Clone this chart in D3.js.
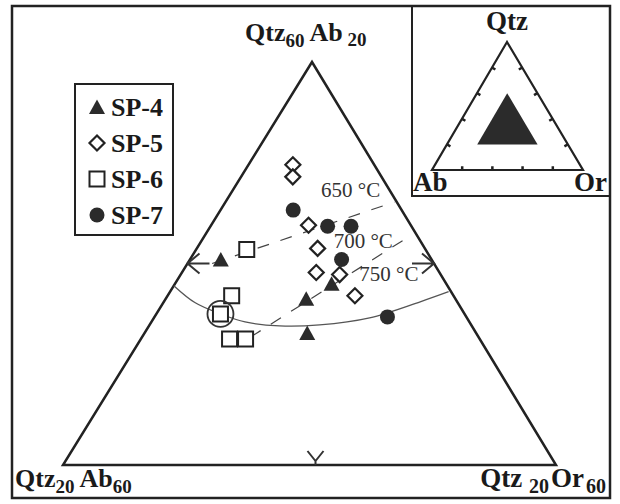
<!DOCTYPE html>
<html lang="en">
<head>
    <meta charset="UTF-8">
    <script src="https://d3js.org/d3.v7.min.js"></script>
    <title>Qtz-Ab-Or ternary</title>
    <style>
        body { margin: 0; background: white; }
        text { font-family: "Liberation Serif", "Times New Roman", serif; fill: #1a1a1a; }
        .bold { font-weight: bold; }
    </style>
</head>
<body>
<div id="chart"></div>
<script>
    // compositions, as [Qtz, Ab, Or] (wt %)
    var sp4 = [[40.4, 37.1, 22.5], [36.5, 32.1, 31.4], [38.0, 29.3, 32.7], [33.1, 33.7, 33.2]];
    var sp5 = [[49.8, 26.6, 23.6], [48.6, 27.2, 24.2], [43.8, 28.3, 27.9], [41.5, 28.7, 29.8],
               [39.1, 30.0, 30.9], [38.9, 28.2, 32.9], [36.8, 28.0, 35.2]];
    var sp6 = [[41.4, 34.5, 24.1], [36.8, 38.0, 25.2], [35.0, 39.8, 25.2], [32.5, 40.3, 27.2], [32.5, 39.0, 28.5]];
    var sp7 = [[45.3, 28.8, 25.9], [43.7, 26.8, 29.5], [43.7, 24.9, 31.4], [40.4, 27.3, 32.3], [34.7, 26.4, 38.9]];
    // minimum composition circled
    var minPoint = [35.0, 39.8, 25.2];
    // cotectic curve
    var cotectic = [[37.8, 42.2, 20.0], [36.1, 41.3, 22.6], [35.0, 39.8, 25.2], [34.2, 38.2, 27.6],
                    [33.8, 35.6, 30.6], [33.9, 32.3, 33.8], [34.6, 27.9, 37.5], [36.2, 23.0, 40.8], [37.2, 20.2, 42.6]];
    // isotherms (dashed)
    var iso650 = [[40.0, 38.0, 22.0], [46.1, 20.2, 33.7]];
    var iso700 = [[32.7, 38.5, 28.8], [42.9, 20.3, 36.8]];
    var isoLabels = ["650 °C", "700 °C", "750 °C"];
    var isoLabelPos = [[46.6, 25.9, 27.5], [41.5, 27.4, 31.1], [38.3, 26.9, 34.8]];
    var seriesNames = ["SP-4", "SP-5", "SP-6", "SP-7"];
    // corners of the main plot and of the small index triangle
    var mainCorners = [[60, 20, 20], [20, 60, 20], [20, 20, 60]];
    var insetTicks = [20, 40, 60, 80];

    var W = 620, H = 504;
    var svg = d3.select("#chart").append("svg")
        .attr("width", W)
        .attr("height", H);

    // main triangle: Qtz 20..60 along the vertical, Or 20..60 along the base
    var apex = [312, 62], bl = [63, 465], br = [556, 465];
    var yScale = d3.scaleLinear().domain([20, 60]).range([bl[1], apex[1]]);
    var xOr = d3.scaleLinear().domain([20, 60]).range([0, br[0] - bl[0]]);
    var xQtz = d3.scaleLinear().domain([20, 60]).range([0, apex[0] - bl[0]]);
    function px(d) { return bl[0] + xOr(d[2]) + xQtz(d[0]); }
    function py(d) { return yScale(d[0]); }

    // inset triangle, full 0..100 range
    var iApex = [507, 42], iBl = [432, 170], iBr = [583, 170];
    var iy = d3.scaleLinear().domain([0, 100]).range([iBl[1], iApex[1]]);
    var ixOr = d3.scaleLinear().domain([0, 100]).range([0, iBr[0] - iBl[0]]);
    var ixQtz = d3.scaleLinear().domain([0, 100]).range([0, iApex[0] - iBl[0]]);
    function ipx(d) { return iBl[0] + ixOr(d[2]) + ixQtz(d[0]); }
    function ipy(d) { return iy(d[0]); }

    // outer frame and inset box
    svg.append("rect").attr("x", 12).attr("y", 6).attr("width", 598).attr("height", 492)
        .attr("fill", "none").attr("stroke", "#222").attr("stroke-width", 2.5);
    svg.append("path").attr("d", "M412,6 V196 H610")
        .attr("fill", "none").attr("stroke", "#222").attr("stroke-width", 2);

    var line = d3.line().x(px).y(py);

    // main triangle
    svg.append("path").attr("d", line(mainCorners) + "Z")
        .attr("fill", "none").attr("stroke", "#222").attr("stroke-width", 2.5)
        .attr("stroke-linejoin", "miter");

    // edge arrows at mid points
    var arrows = svg.append("g").attr("stroke", "#333").attr("stroke-width", 2).attr("fill", "none");
    var mL = [px([40, 40, 20]), py([40, 40, 20])];
    var mR = [px([40, 20, 40]), py([40, 20, 40])];
    var mB = [px([20, 40, 40]) + 6, py([20, 40, 40])];
    arrows.append("path").attr("d", "M" + (mL[0] + 12) + "," + (mL[1] - 10) + " L" + mL[0] + "," + mL[1] +
        " L" + (mL[0] + 12) + "," + (mL[1] + 10) + " M" + mL[0] + "," + mL[1] + " H" + (mL[0] + 22));
    arrows.append("path").attr("d", "M" + (mR[0] - 12) + "," + (mR[1] - 10) + " L" + mR[0] + "," + mR[1] +
        " L" + (mR[0] - 12) + "," + (mR[1] + 10) + " M" + mR[0] + "," + mR[1] + " H" + (mR[0] - 22));
    arrows.append("path").attr("d", "M" + (mB[0] - 8) + "," + (mB[1] - 14) + " L" + mB[0] + "," + (mB[1] - 4) +
        " L" + (mB[0] + 8) + "," + (mB[1] - 14) + " M" + mB[0] + "," + (mB[1] - 4) + " V" + mB[1]);

    // cotectic and isotherms
    svg.append("path").attr("d", d3.line().x(px).y(py).curve(d3.curveCatmullRom)(cotectic))
        .attr("fill", "none").attr("stroke", "#555").attr("stroke-width", 1.3);
    [iso650, iso700].forEach(function(iso) {
        svg.append("path").attr("d", line(iso))
            .attr("fill", "none").attr("stroke", "#444").attr("stroke-width", 1.2)
            .attr("stroke-dasharray", "12,12");
    });
    svg.selectAll(".iso").data(isoLabels).enter().append("text")
        .attr("class", "iso")
        .attr("x", function(d, i) { return px(isoLabelPos[i]); })
        .attr("y", function(d, i) { return py(isoLabelPos[i]); })
        .attr("font-size", 21)
        .style("fill", "#333")
        .text(function(d) { return d; });

    // markers
    var shapes = {
        tri: "M0,-7.5 L8,7 L-8,7 Z",
        dia: "M0,-7.5 L7.5,0 L0,7.5 L-7.5,0 Z",
        sq: "M-7.5,-7.5 H7.5 V7.5 H-7.5 Z"
    };
    function drawTri(g, data) {
        g.selectAll(null).data(data).enter().append("path")
            .attr("transform", function(d) { return "translate(" + px(d) + "," + py(d) + ")"; })
            .attr("d", shapes.tri).attr("fill", "#2b2b2b");
    }
    function drawDia(g, data) {
        g.selectAll(null).data(data).enter().append("path")
            .attr("transform", function(d) { return "translate(" + px(d) + "," + py(d) + ")"; })
            .attr("d", shapes.dia).attr("fill", "white").attr("stroke", "#222").attr("stroke-width", 2.2);
    }
    function drawSq(g, data) {
        g.selectAll(null).data(data).enter().append("path")
            .attr("transform", function(d) { return "translate(" + px(d) + "," + py(d) + ")"; })
            .attr("d", shapes.sq).attr("fill", "white").attr("stroke", "#222").attr("stroke-width", 2);
    }
    function drawCir(g, data) {
        g.selectAll(null).data(data).enter().append("circle")
            .attr("cx", px).attr("cy", py).attr("r", 7.5).attr("fill", "#2b2b2b");
    }
    var marks = svg.append("g");
    drawSq(marks, sp6);
    drawDia(marks, sp5);
    drawCir(marks, sp7);
    drawTri(marks, sp4);
    marks.append("circle").attr("cx", px(minPoint)).attr("cy", py(minPoint)).attr("r", 13)
        .attr("fill", "none").attr("stroke", "#333").attr("stroke-width", 1.8);

    // corner labels
    var title = svg.append("text").attr("class", "bold").attr("x", 245).attr("y", 41).attr("font-size", 26);
    title.append("tspan").text("Qtz");
    title.append("tspan").attr("font-size", 19).attr("dy", 6).text("60");
    title.append("tspan").attr("dy", -6).text(" Ab");
    title.append("tspan").attr("font-size", 19).attr("dy", 5).text(" 20");

    var lbl = svg.append("text").attr("class", "bold").attr("x", 15).attr("y", 487).attr("font-size", 26);
    lbl.append("tspan").text("Qtz");
    lbl.append("tspan").attr("font-size", 19).attr("dy", 6).text("20");
    lbl.append("tspan").attr("dy", -6).text(" Ab");
    lbl.append("tspan").attr("font-size", 19).attr("dy", 6).text("60");

    var rbl = svg.append("text").attr("class", "bold").attr("x", 606).attr("y", 487)
        .attr("text-anchor", "end").attr("font-size", 27);
    rbl.append("tspan").text("Qtz ");
    rbl.append("tspan").attr("font-size", 20).attr("dy", 6).text("20");
    rbl.append("tspan").attr("dy", -6).attr("dx", 2).text("Or");
    rbl.append("tspan").attr("font-size", 20).attr("dy", 6).attr("dx", 2).text("60");

    // legend
    var legend = svg.append("g");
    legend.append("rect").attr("x", 75).attr("y", 84).attr("width", 98).attr("height", 151)
        .attr("fill", "white").attr("stroke", "#222").attr("stroke-width", 2);
    var legY = d3.scalePoint().domain(seriesNames).range([107, 215]);
    seriesNames.forEach(function(name, i) {
        var g = legend.append("g").attr("transform", "translate(97," + legY(name) + ")");
        var shp = ["tri", "dia", "sq"][i];
        if (i < 3) {
            var p = g.append("path").attr("d", shapes[shp]);
            if (i === 0) p.attr("fill", "#2b2b2b");
            else p.attr("fill", "white").attr("stroke", "#222").attr("stroke-width", i === 1 ? 2.2 : 2);
        } else {
            g.append("circle").attr("r", 7.5).attr("fill", "#2b2b2b");
        }
        g.append("text").attr("class", "bold").attr("x", 14).attr("y", 9).attr("font-size", 26).text(name);
    });

    // inset
    var inset = svg.append("g");
    var iCorners = [[100, 0, 0], [0, 100, 0], [0, 0, 100]];
    var iline = d3.line().x(ipx).y(ipy);
    inset.append("path").attr("d", iline(iCorners) + "Z")
        .attr("fill", "none").attr("stroke", "#222").attr("stroke-width", 2.2);
    inset.append("path").attr("d", iline(mainCorners) + "Z").attr("fill", "#2b2b2b");
    // tick marks along the edges, pointing inward
    var tickData = [];
    insetTicks.forEach(function(t) {
        tickData.push({p: [0, 100 - t, t], q: [3, 100 - t - 1.5, t - 1.5]});
        tickData.push({p: [t, 100 - t, 0], q: [t - 1.5, 100 - t - 1.5, 3]});
        tickData.push({p: [t, 0, 100 - t], q: [t - 1.5, 3, 100 - t - 1.5]});
    });
    inset.selectAll(null).data(tickData).enter().append("line")
        .attr("x1", function(d) { return ipx(d.p); }).attr("y1", function(d) { return ipy(d.p); })
        .attr("x2", function(d) { return ipx(d.q); }).attr("y2", function(d) { return ipy(d.q); })
        .attr("stroke", "#222").attr("stroke-width", 2.5);
    inset.append("text").attr("class", "bold").attr("x", 507).attr("y", 30)
        .attr("text-anchor", "middle").attr("font-size", 27).text("Qtz");
    inset.append("text").attr("class", "bold").attr("x", 413).attr("y", 191)
        .attr("font-size", 27).text("Ab");
    inset.append("text").attr("class", "bold").attr("x", 607).attr("y", 191)
        .attr("text-anchor", "end").attr("font-size", 27).text("Or");
</script>
</body>
</html>
